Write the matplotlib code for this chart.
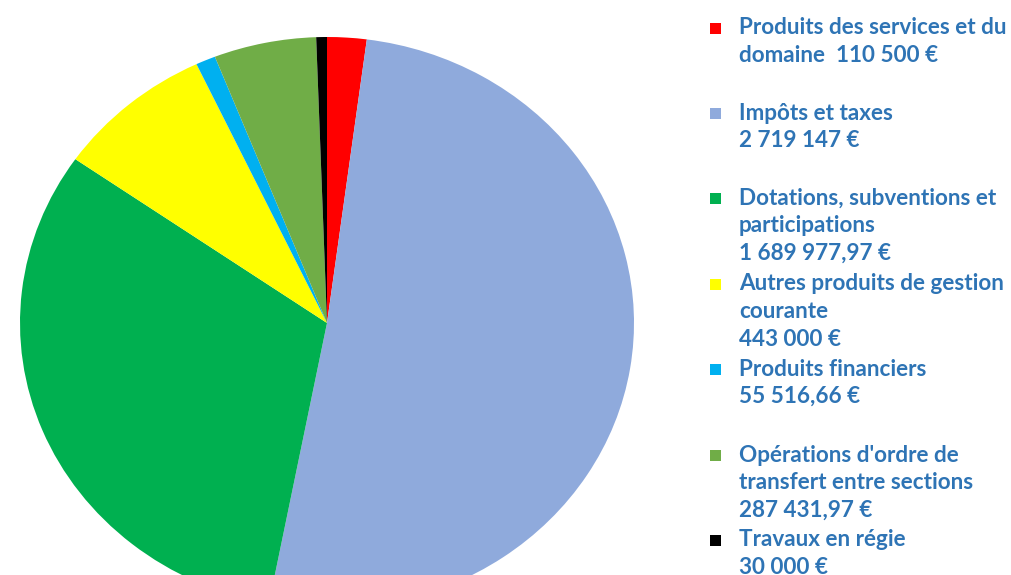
import matplotlib
matplotlib.use("Agg")
import matplotlib.pyplot as plt
from matplotlib.patches import Rectangle

categories = [
    "Produits des services et du\ndomaine  110 500 €",
    "Impôts et taxes\n2 719 147 €",
    "Dotations, subventions et\nparticipations\n1 689 977,97 €",
    "Autres produits de gestion\ncourante\n443 000 €",
    "Produits financiers\n55 516,66 €",
    "Opérations d'ordre de\ntransfert entre sections\n287 431,97 €",
    "Travaux en régie\n30 000 €",
]
values = [110500, 2719147, 1689977.97, 443000, 55516.66, 287431.97, 30000]
colors = ["#FF0000", "#8FAADC", "#00B050", "#FFFF00", "#00B0F0", "#70AD47", "#000000"]

W, H = 1011, 575
fig = plt.figure(figsize=(W / 100, H / 100), dpi=100)

# pie axes (elliptical pie, bottom cut off)
cx, cy, rx, ry = 327, 323, 307, 286
ax = fig.add_axes([(cx - rx) / W, (H - (cy + ry)) / H, 2 * rx / W, 2 * ry / H])
ax.pie(values, colors=colors, startangle=90, counterclock=False, radius=1,
       wedgeprops=dict(linewidth=0))
ax.set_aspect("auto")
ax.set_xlim(-1, 1)
ax.set_ylim(-1, 1)
ax.axis("off")

# legend
text_color = "#2E74B5"
first_line_y = [28, 113, 198, 284, 369, 455, 540]
line_h = 27.5
for lab, col, y0 in zip(categories, colors, first_line_y):
    for i, line in enumerate(lab.split("\n")):
        fig.text(739 / W, 1 - (y0 + i * line_h) / H, line, fontsize=16.2,
                 fontfamily="Lato", fontweight="bold", color=text_color,
                 va="center", ha="left")
    s = 11
    fig.patches.append(Rectangle(((715 - s / 2) / W, 1 - (y0 + s / 2) / H), s / W, s / H,
                                 transform=fig.transFigure, facecolor=col,
                                 edgecolor="none"))

fig.savefig("out.png", dpi=100)
